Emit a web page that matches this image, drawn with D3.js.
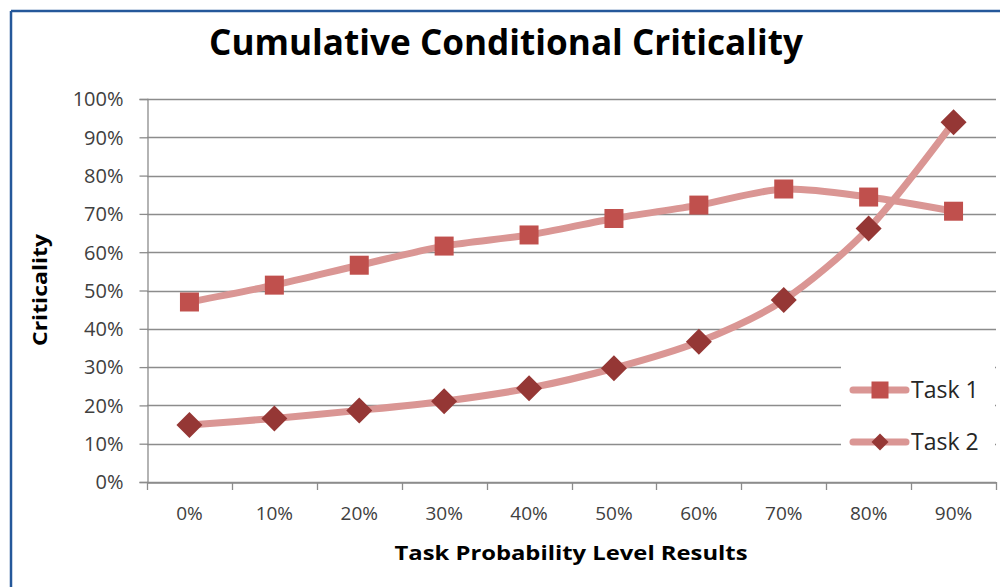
<!DOCTYPE html>
<html>
<head>
<meta charset="utf-8">
<script src="https://cdn.jsdelivr.net/npm/d3@7"></script>
<style>
  html, body { margin: 0; padding: 0; background: #fff; }
  svg { display: block; }
</style>
</head>
<body>
<svg id="chart" width="1000" height="587"></svg>
<script>
const categories = ["0%", "10%", "20%", "30%", "40%", "50%", "60%", "70%", "80%", "90%"];
const task1 = [47.0, 51.4, 56.6, 61.6, 64.5, 68.8, 72.3, 76.5, 74.4, 70.7];
const task2 = [14.9, 16.6, 18.7, 21.1, 24.5, 29.7, 36.6, 47.5, 66.2, 93.9];
const yTicks = [0, 10, 20, 30, 40, 50, 60, 70, 80, 90, 100];
const seriesNames = ["Task 1", "Task 2"];

(function () {
const svg = d3.select("#chart");
const W = 1000, H = 587;
const pLeft = 147, pRight = 996, pTop = 99, pBottom = 482;

const lineColor = "#DA9694";
const c1 = "#C0504D";
const c2 = "#953735";
const gridColor = "#8C8C8C";
const textColor = "#404040";
const tickFont = "'Open Sans', 'DejaVu Sans', sans-serif";

// border (top & left, blue)
svg.append("line").attr("x1", 11).attr("x2", W).attr("y1", 11).attr("y2", 11)
  .attr("stroke", "#25589A").attr("stroke-width", 2.5);
svg.append("line").attr("x1", 11).attr("x2", 11).attr("y1", 11).attr("y2", H)
  .attr("stroke", "#25589A").attr("stroke-width", 2.5);

const x = d3.scaleBand().domain(categories).range([pLeft, pRight]);
const y = d3.scaleLinear().domain([0, 100]).range([pBottom, pTop]);

// gridlines
svg.append("g").selectAll("line").data(yTicks).join("line")
  .attr("x1", pLeft).attr("x2", pRight)
  .attr("y1", d => Math.round(y(d)) + 0.5).attr("y2", d => Math.round(y(d)) + 0.5)
  .attr("stroke", gridColor).attr("stroke-width", 1.3);

// y axis
const yAxis = svg.append("g").attr("transform", `translate(${pLeft + 0.5},0)`)
  .call(d3.axisLeft(y).tickValues(yTicks).tickFormat(d => d + "%").tickSize(8).tickPadding(16));
yAxis.select(".domain").attr("stroke", gridColor).attr("stroke-width", 1.3);
yAxis.selectAll(".tick line").attr("stroke", gridColor).attr("stroke-width", 1.3);
yAxis.selectAll("text").attr("fill", textColor).style("font-family", tickFont)
  .style("font-size", "20px").attr("dy", "0.34em");

// x axis
const xAxis = svg.append("g").attr("transform", `translate(0,${Math.round(y(0)) + 0.5})`)
  .call(d3.axisBottom(x).tickSize(0).tickPadding(24));
xAxis.select(".domain").attr("stroke", gridColor).attr("stroke-width", 1.3);
xAxis.selectAll("text").attr("fill", textColor).style("font-family", tickFont)
  .style("font-size", "19px");
// x ticks at band boundaries
const bounds = categories.map(c => x(c)).concat([pRight]);
svg.append("g").selectAll("line").data(bounds).join("line")
  .attr("x1", d => Math.round(d) + 0.5).attr("x2", d => Math.round(d) + 0.5)
  .attr("y1", pBottom).attr("y2", pBottom + 8)
  .attr("stroke", gridColor).attr("stroke-width", 1.3);

// legend background
const lgX = 841, lgY = 347;
svg.append("rect").attr("x", lgX).attr("y", lgY).attr("width", pRight - lgX - 1).attr("height", 128)
  .attr("fill", "#fff");

// lines
const cx = d => x(d) + x.bandwidth() / 2;
const line = d3.line().curve(d3.curveCardinal.tension(0.15)).x((d, i) => cx(categories[i])).y(d => y(d));

svg.append("path").datum(task1).attr("d", line).attr("fill", "none")
  .attr("stroke", lineColor).attr("stroke-width", 7).attr("stroke-linecap", "round");
svg.append("path").datum(task2).attr("d", line).attr("fill", "none")
  .attr("stroke", lineColor).attr("stroke-width", 7).attr("stroke-linecap", "round");

// markers
const sq = 19;
svg.append("g").selectAll("rect").data(task1).join("rect")
  .attr("x", (d, i) => cx(categories[i]) - sq / 2).attr("y", d => y(d) - sq / 2)
  .attr("width", sq).attr("height", sq).attr("fill", c1);
const dm = 13;
svg.append("g").selectAll("path").data(task2).join("path")
  .attr("d", (d, i) => {
    const px = cx(categories[i]), py = y(d);
    return `M${px},${py - dm}L${px + dm},${py}L${px},${py + dm}L${px - dm},${py}Z`;
  }).attr("fill", c2);

// legend
const legend = [
  { name: seriesNames[0], y: 390, type: "sq" },
  { name: seriesNames[1], y: 442, type: "dm" }
];
legend.forEach(l => {
  svg.append("line").attr("x1", 853).attr("x2", 906).attr("y1", l.y).attr("y2", l.y)
    .attr("stroke", lineColor).attr("stroke-width", 7).attr("stroke-linecap", "round");
  if (l.type === "sq") {
    svg.append("rect").attr("x", 880 - 8.5).attr("y", l.y - 8.5).attr("width", 17).attr("height", 17).attr("fill", c1);
  } else {
    const d = 8.5;
    svg.append("path").attr("d", `M880,${l.y - d}L${880 + d},${l.y}L880,${l.y + d}L${880 - d},${l.y}Z`).attr("fill", c2);
  }
  svg.append("text").attr("x", 911).attr("y", l.y + 8).text(l.name)
    .attr("fill", "#262626").style("font-family", tickFont).style("font-size", "23px");
});

// title
svg.append("text").attr("x", 506).attr("y", 55).attr("text-anchor", "middle")
  .attr("textLength", 594).attr("lengthAdjust", "spacingAndGlyphs")
  .style("font-family", "'Open Sans', 'Liberation Sans', sans-serif").style("font-weight", "bold")
  .style("font-size", "35px").attr("fill", "#000").text("Cumulative Conditional Criticality");

// x axis title
svg.append("text").attr("x", 571).attr("y", 560).attr("text-anchor", "middle")
  .attr("textLength", 353).attr("lengthAdjust", "spacingAndGlyphs")
  .style("font-family", "'Open Sans', 'Liberation Sans', sans-serif").style("font-weight", "bold")
  .style("font-size", "20px").attr("fill", "#000").text("Task Probability  Level Results");

// y axis title
svg.append("text").attr("transform", "translate(47,290) rotate(-90)").attr("text-anchor", "middle")
  .attr("textLength", 112).attr("lengthAdjust", "spacingAndGlyphs")
  .style("font-family", "'Open Sans', 'Liberation Sans', sans-serif").style("font-weight", "bold")
  .style("font-size", "20px").attr("fill", "#000").text("Criticality");
})();
</script>
</body>
</html>
